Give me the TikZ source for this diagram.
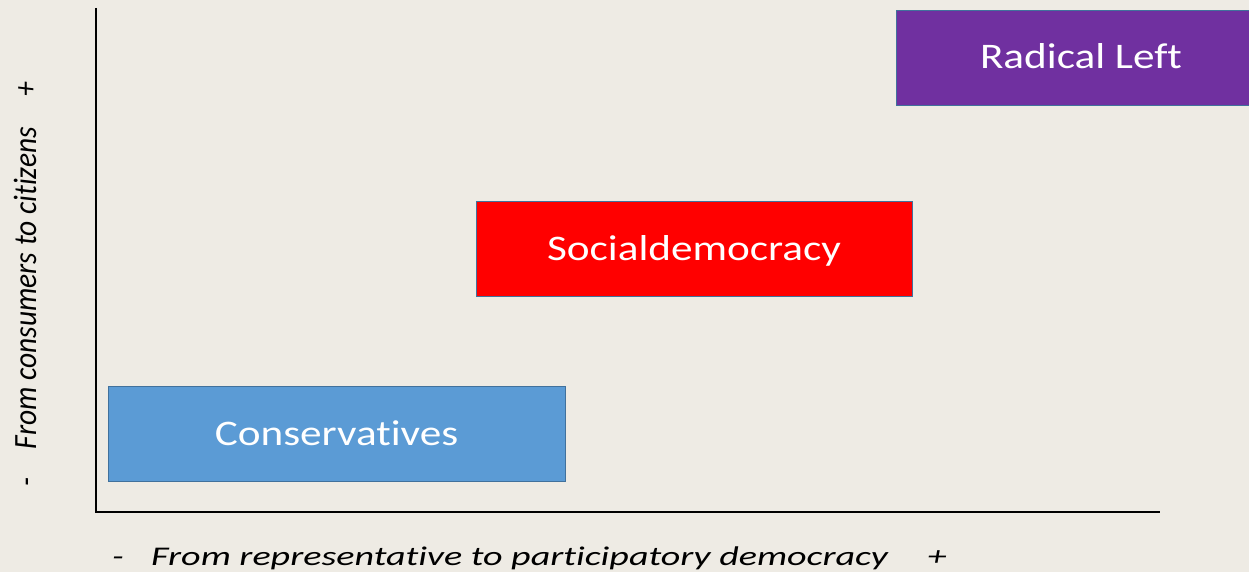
\documentclass[tikz,border=0pt]{standalone}
\usepackage{fontspec}
\setmainfont{Carlito}[Ligatures=NoCommon]
\definecolor{bg}{HTML}{EEEBE4}
\definecolor{rlpurple}{HTML}{7030A0}
\definecolor{sdred}{HTML}{FF0000}
\definecolor{cvblue}{HTML}{5B9BD5}
\definecolor{edge}{HTML}{41719C}
\newcommand{\widetext}[1]{\scalebox{1.2}[1]{#1}}
\newcommand{\widertext}[1]{\scalebox{1.41}[1]{#1}}
\newcommand{\talltext}[1]{\scalebox{1}[1.1]{#1}}
\tikzset{
  party/.style={draw=edge, line width=0.8pt, text=white, inner sep=0pt,
    minimum height=95pt, text height=23pt, text depth=0pt,
    font=\fontsize{36}{40}\selectfont},
  axislabel/.style={inner sep=0pt, font=\fontsize{27}{32}\selectfont\itshape},
  vlabel/.style={inner sep=0pt, rotate=90, font=\fontsize{29.5}{34}\selectfont\itshape},
}
\begin{document}
\begin{tikzpicture}[x=1pt,y=-1pt]
\fill[bg] (0,0) rectangle (1249,572);
\useasboundingbox (0,0) rectangle (1249,572);
\begin{scope}
\clip (0,0) rectangle (1249,572);
% axes
\coordinate (ytop) at (96,8);
\coordinate (xend) at (1160,512);
\draw[line width=1.5pt] (ytop) |- (xend);
% parties
\node[party, fill=rlpurple, minimum width=370pt] (rl) at (1081,57.5) {\widetext{Radical Left}};
\node[party, fill=sdred, minimum width=436pt] (sd) at (694,248.5) {\widetext{Socialdemocracy}};
\node[party, fill=cvblue, minimum width=457pt] (cv) at (336.5,433.5) {\widetext{Conservatives}};
% axis labels
\node[axislabel, anchor=base west] (xl) at (151,565) {\widertext{From representative to participatory democracy}};
\node[axislabel, anchor=base] (xm) at (118,565) {\widertext{-}};
\node[axislabel, anchor=base] (xp) at (937,565) {\widertext{+}};
\node[vlabel, anchor=base] (yl) at (36,288) {\talltext{From consumers to citizens}};
\node[vlabel, anchor=base] (ym) at (36,482) {\talltext{-}};
\node[vlabel, anchor=base] (yp) at (36,89) {\talltext{+}};
\end{scope}
\end{tikzpicture}
\end{document}
